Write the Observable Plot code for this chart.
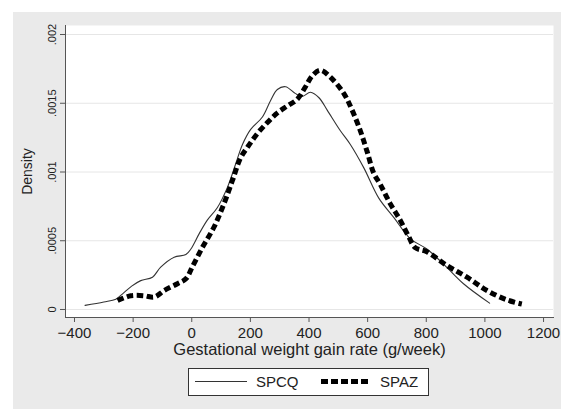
<!DOCTYPE html>
<html>
<head>
<meta charset="utf-8">
<script src="https://cdn.jsdelivr.net/npm/d3@7"></script>
<script src="https://cdn.jsdelivr.net/npm/@observablehq/plot@0.6"></script>
<style>
  html, body { margin: 0; padding: 0; background: #ffffff; }
  #panel { position: absolute; left: 13px; top: 12px; width: 548px; height: 397px; background: #eaeaea; font-family: "Liberation Sans", Arial, Helvetica, sans-serif; }
  #panel svg { display: block; }
</style>
</head>
<body>
<div id="panel"></div>
<script>
// ---- data ----
const seriesNames = ["SPCQ", "SPAZ"];

const spcqX = [-364, -300, -259, -236, -205, -174, -134, -106, -60, -20, -3, 25, 53, 87, 122, 150, 173, 201, 241, 269, 292, 320, 354, 377, 405, 434, 462, 507, 541, 587, 638, 689, 746, 802, 859, 927, 1016];
const spcqY = [0.00003, 0.000055, 0.000075, 0.000114, 0.00017, 0.00021, 0.000235, 0.000308, 0.00038, 0.0004, 0.00044, 0.00055, 0.00065, 0.00074, 0.00089, 0.00106, 0.0012, 0.00131, 0.0014, 0.00152, 0.0016, 0.00162, 0.00157, 0.00155, 0.00158, 0.00154, 0.00145, 0.0013, 0.0012, 0.00103, 0.00081, 0.00067, 0.000514, 0.00044, 0.00033, 0.000187, 0.000046];

const spazX = [-253, -208, -162, -128, -94, -49, -20, 2, 36, 76, 110, 139, 166, 190, 224, 258, 292, 326, 360, 388, 411, 439, 473, 519, 547, 575, 598, 621, 643, 677, 711, 740, 762, 802, 870, 939, 1007, 1075, 1126];
const spazY = [0.000065, 0.0001, 0.0001, 0.00009, 0.000138, 0.000187, 0.000223, 0.00031, 0.00045, 0.0006, 0.00077, 0.00094, 0.0011, 0.00118, 0.00128, 0.00136, 0.00143, 0.00148, 0.00153, 0.00162, 0.0017, 0.00174, 0.00169, 0.00157, 0.00145, 0.0013, 0.00115, 0.00099, 0.00091, 0.00077, 0.00065, 0.00053, 0.00045, 0.00042, 0.00032, 0.000235, 0.000138, 0.00007, 0.00004];

const xTicks = [-400, -200, 0, 200, 400, 600, 800, 1000, 1200];
const yTicks = [0, 0.0005, 0.001, 0.0015, 0.002];
const yTickLabels = ["0", ".0005", ".001", ".0015", ".002"];
const xTitle = "Gestational weight gain rate (g/week)";
const yTitle = "Density";

// ---- build tables ----
const spcq = spcqX.map((x, i) => ({x, y: spcqY[i], s: seriesNames[0]}));
const spaz = spazX.map((x, i) => ({x, y: spazY[i], s: seriesNames[1]}));
const yLabelRows = yTicks.map((v, i) => ({v, t: yTickLabels[i]}));

const fontTick = "Liberation Sans, Arial, sans-serif";

const chart = Plot.plot({
  width: 548,
  height: 350,
  marginLeft: 52,
  marginRight: 8,
  marginTop: 13,
  marginBottom: 45,
  style: {background: "transparent", fontFamily: fontTick, color: "#222"},
  x: {domain: [-430.7, 1234], ticks: xTicks},
  y: {domain: [-0.0000582, 0.0020655]},
  marks: [
    Plot.frame({fill: "white", stroke: null}),
    Plot.gridY(yTicks, {stroke: "#e6e6e6", strokeOpacity: 1, strokeWidth: 1}),
    Plot.frame({anchor: "left", stroke: "#555"}),
    Plot.frame({anchor: "bottom", stroke: "#555"}),
    Plot.axisX(xTicks, {tickSize: 5, tickPadding: 5, fontSize: 15, stroke: "#555", fill: "#222", label: null, tickFormat: d => d3.format("")(d).replace("-", "\u2212")}),
    Plot.axisY(yTicks, {tickSize: 5, stroke: "#555", tickFormat: () => "", label: null}),
    Plot.text(yLabelRows, {y: "v", text: "t", frameAnchor: "left", rotate: -90, dx: -13.5, fontSize: 11, fill: "#222", textAnchor: "middle"}),
    Plot.text([yTitle], {frameAnchor: "left", rotate: -90, dx: -37.5, fontSize: 14, fill: "#222", textAnchor: "middle"}),
    Plot.text([xTitle], {frameAnchor: "bottom", dy: 37, fontSize: 16.5, fill: "#222", textAnchor: "middle"}),
    Plot.line(spcq, {x: "x", y: "y", stroke: "#333", strokeWidth: 1.1, curve: "catmull-rom"}),
    Plot.line(spaz, {x: "x", y: "y", stroke: "#000", strokeWidth: 5, strokeDasharray: "6.5,3.5", strokeLinecap: "butt", strokeLinejoin: "miter", curve: "catmull-rom"})
  ]
});

const panel = document.getElementById("panel");
panel.appendChild(chart);

// ---- legend below the plot ----
const leg = d3.create("svg").attr("width", 548).attr("height", 47);
leg.append("rect").attr("x", 175.5).attr("y", 6.5).attr("width", 240).attr("height", 27)
  .attr("fill", "white").attr("stroke", "#333").attr("stroke-width", 1);
leg.append("line").attr("x1", 182).attr("x2", 234).attr("y1", 19.5).attr("y2", 19.5)
  .attr("stroke", "#333").attr("stroke-width", 1.1);
leg.append("text").attr("x", 243).attr("y", 25).text(seriesNames[0])
  .attr("font-size", 15).attr("fill", "#222").attr("font-family", fontTick);
leg.append("line").attr("x1", 308).attr("x2", 357).attr("y1", 19.5).attr("y2", 19.5)
  .attr("stroke", "#000").attr("stroke-width", 5).attr("stroke-dasharray", "7,3");
leg.append("text").attr("x", 367).attr("y", 25).text(seriesNames[1])
  .attr("font-size", 15).attr("fill", "#222").attr("font-family", fontTick);
panel.appendChild(leg.node());
</script>
</body>
</html>
